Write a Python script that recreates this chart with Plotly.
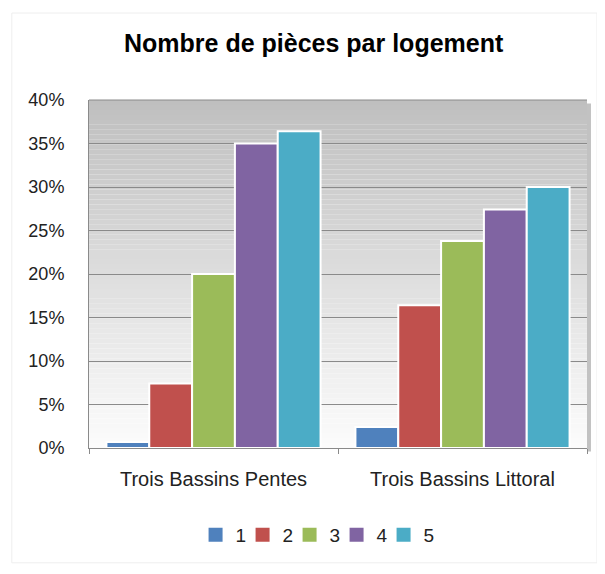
import plotly.graph_objects as go

categories = ["Trois Bassins Pentes", "Trois Bassins Littoral"]
series_names = ["1", "2", "3", "4", "5"]
values_1 = [0.007, 0.024]
values_2 = [0.074, 0.164]
values_3 = [0.200, 0.238]
values_4 = [0.350, 0.274]
values_5 = [0.364, 0.300]
series_values = [values_1, values_2, values_3, values_4, values_5]
colors = ["#4F81BD", "#C0504D", "#9BBB59", "#8064A2", "#4BACC6"]
y_ticks = [0, 0.05, 0.10, 0.15, 0.20, 0.25, 0.30, 0.35, 0.40]
y_tick_labels = ["0%", "5%", "10%", "15%", "20%", "25%", "30%", "35%", "40%"]

FONT = "Liberation Sans, Arial, sans-serif"

fig = go.Figure()
for name, vals, col in zip(series_names, series_values, colors):
    fig.add_trace(go.Bar(
        x=categories, y=vals, name=name, showlegend=False,
        marker=dict(color=col, line=dict(color="white", width=2)),
    ))
# legend-only entries with square swatches
for name, col in zip(series_names, colors):
    fig.add_trace(go.Scatter(
        x=[None], y=[None], name=name, mode="markers",
        marker=dict(symbol="square", size=14, color=col),
    ))
# invisible spacer entry so the last legend label is not clipped
fig.add_trace(go.Scatter(
    x=[None], y=[None], name=" ", mode="markers",
    marker=dict(symbol="square", size=1, color="rgba(0,0,0,0)"),
))

# gradient plot background (decorative)
shapes = []
n = 70
top = (191, 191, 191)
bot = (252, 252, 252)
for i in range(n):
    t = i / (n - 1)
    c = tuple(int(round(top[k] + (bot[k] - top[k]) * t)) for k in range(3))
    y1 = 1 - i / n
    y0 = 1 - (i + 1) / n
    shapes.append(dict(type="rect", xref="x domain", yref="y domain",
                       x0=0, x1=1, y0=y0, y1=y1, layer="below",
                       line=dict(width=0), fillcolor="rgb(%d,%d,%d)" % c))
# right-side shadow
shapes.append(dict(type="rect", xref="x domain", yref="y domain",
                   x0=1.0, x1=1.008, y0=-0.01, y1=0.99, layer="below",
                   line=dict(width=0), fillcolor="rgba(120,120,120,0.45)"))
# outer chart border
shapes.append(dict(type="rect", xref="paper", yref="paper",
                   x0=-0.155, x1=1.02, y0=-0.33, y1=1.25, layer="below",
                   line=dict(width=1, color="#eeeeee"), fillcolor="rgba(0,0,0,0)"))

fig.update_layout(
    width=597, height=566,
    margin=dict(l=81, r=18, t=92, b=126),
    paper_bgcolor="white",
    plot_bgcolor="rgba(0,0,0,0)",
    font=dict(family=FONT, color="#222222", size=18),
    title=dict(text="<b>Nombre de pièces par logement</b>", x=0.512, xanchor="center",
               y=0.938, yanchor="middle",
               font=dict(family=FONT, size=25, color="#000000")),
    barmode="group",
    bargap=0.14,
    bargroupgap=0,
    shapes=shapes,
    showlegend=True,
    legend=dict(orientation="h", x=0.214, xanchor="left", y=-0.25, yanchor="middle",
                font=dict(family=FONT, size=19, color="#222222"),
                entrywidth=2, itemwidth=30, traceorder="normal"),
    yaxis=dict(range=[0, 0.40], tickvals=y_ticks, ticktext=y_tick_labels,
               showgrid=True, gridcolor="#8a8a8a", gridwidth=1,
               showline=True, linecolor="#8a8a8a", linewidth=1,
               ticks="", ticklabelstandoff=20, zeroline=False,
               tickfont=dict(family=FONT, size=18, color="#222222"),
               mirror=False, fixedrange=True),
    xaxis=dict(showline=True, linecolor="#8a8a8a", linewidth=1,
               ticks="outside", tickson="boundaries", ticklen=5, tickcolor="#8a8a8a",
               tickfont=dict(family=FONT, size=20, color="#222222"),
               ticklabelstandoff=13, showgrid=False, fixedrange=True),
)
fig.add_shape(type="line", xref="x domain", yref="y domain", x0=0, x1=1, y0=1, y1=1,
              line=dict(color="#8a8a8a", width=1))

fig.write_html("out.html")
